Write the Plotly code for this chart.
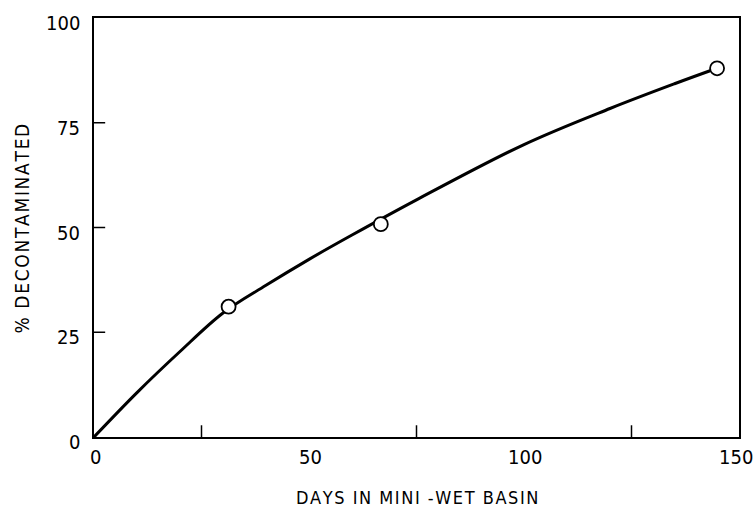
import plotly.graph_objects as go

# Measured decontamination fractions
days_measured = [31.3, 66.7, 144.9]
pct_measured = [31.1, 50.8, 88.0]

# Smoothed trend curve through the measurements
days_curve = [0, 10, 20, 30, 40, 50, 60, 75, 100, 120, 135, 144.9]
pct_curve = [0, 10.6, 20.4, 29.6, 36.2, 42.4, 48.2, 56.6, 69.8, 78.4, 84.3, 88.0]

# Axis tick labels and inner tick marks
x_tick_labels = [0, 50, 100, 150]
y_tick_labels = [0, 25, 50, 75, 100]
x_tick_marks = [25, 75, 125]
y_tick_marks = [25, 50, 75]

FONT = "Liberation Sans Narrow, DejaVu Sans Condensed, Arial Narrow, sans-serif"


def spaced(text):
    # widen the lettering of a caption with thin spaces
    return "\u200a".join(text).replace("\u200a \u200a", "\u2002")


fig = go.Figure()

fig.add_trace(go.Scatter(
    x=days_curve, y=pct_curve, mode="lines",
    line=dict(color="black", width=3, shape="spline", smoothing=1.0),
    hoverinfo="skip", showlegend=False,
))
fig.add_trace(go.Scatter(
    x=days_measured, y=pct_measured, mode="markers",
    marker=dict(symbol="circle", size=14, color="white",
                line=dict(color="black", width=1.8)),
    showlegend=False,
))

shapes = []
for xv in x_tick_marks:
    shapes.append(dict(type="line", xref="x", yref="y", x0=xv, x1=xv, y0=0, y1=2.8,
                       line=dict(color="black", width=1.5)))
for yv in y_tick_marks:
    shapes.append(dict(type="line", xref="x", yref="y", x0=0, x1=2.6, y0=yv, y1=yv,
                       line=dict(color="black", width=1.5)))

annotations = []
for xv in x_tick_labels:
    annotations.append(dict(x=xv, y=0, xref="x", yref="paper", text=str(xv),
                            showarrow=False, xanchor="center", yanchor="middle",
                            xshift=-3 if xv == x_tick_labels[-1] else 1, yshift=-20,
                            font=dict(family=FONT, size=20, color="black")))
for yv in y_tick_labels:
    annotations.append(dict(x=0, y=yv, xref="paper", yref="y", text=str(yv),
                            showarrow=False, xanchor="right", yanchor="middle",
                            xshift=-12, yshift=-5, font=dict(family=FONT, size=20, color="black")))

annotations.append(dict(x=0.5, y=0, xref="paper", yref="paper",
                        text=spaced("DAYS IN MINI -WET BASIN"),
                        showarrow=False, xanchor="center", yanchor="middle", yshift=-60,
                        font=dict(family=FONT, size=18, color="black")))
annotations.append(dict(x=0, y=0.5, xref="paper", yref="paper",
                        text=spaced("% DECONTAMINATED"), textangle=-90,
                        showarrow=False, xanchor="center", yanchor="middle",
                        xshift=-73, yshift=-1,
                        font=dict(family=FONT, size=19, color="black")))

fig.update_layout(
    width=755, height=511,
    margin=dict(l=94, r=16, t=18, b=74),
    paper_bgcolor="white", plot_bgcolor="white",
    shapes=shapes, annotations=annotations,
    xaxis=dict(range=[0, 150], showgrid=False, zeroline=False, showticklabels=False,
               ticks="", showline=True, linecolor="black", linewidth=2, mirror=True),
    yaxis=dict(range=[0, 100], showgrid=False, zeroline=False, showticklabels=False,
               ticks="", showline=True, linecolor="black", linewidth=2, mirror=True),
)

fig.write_html("out.html")
